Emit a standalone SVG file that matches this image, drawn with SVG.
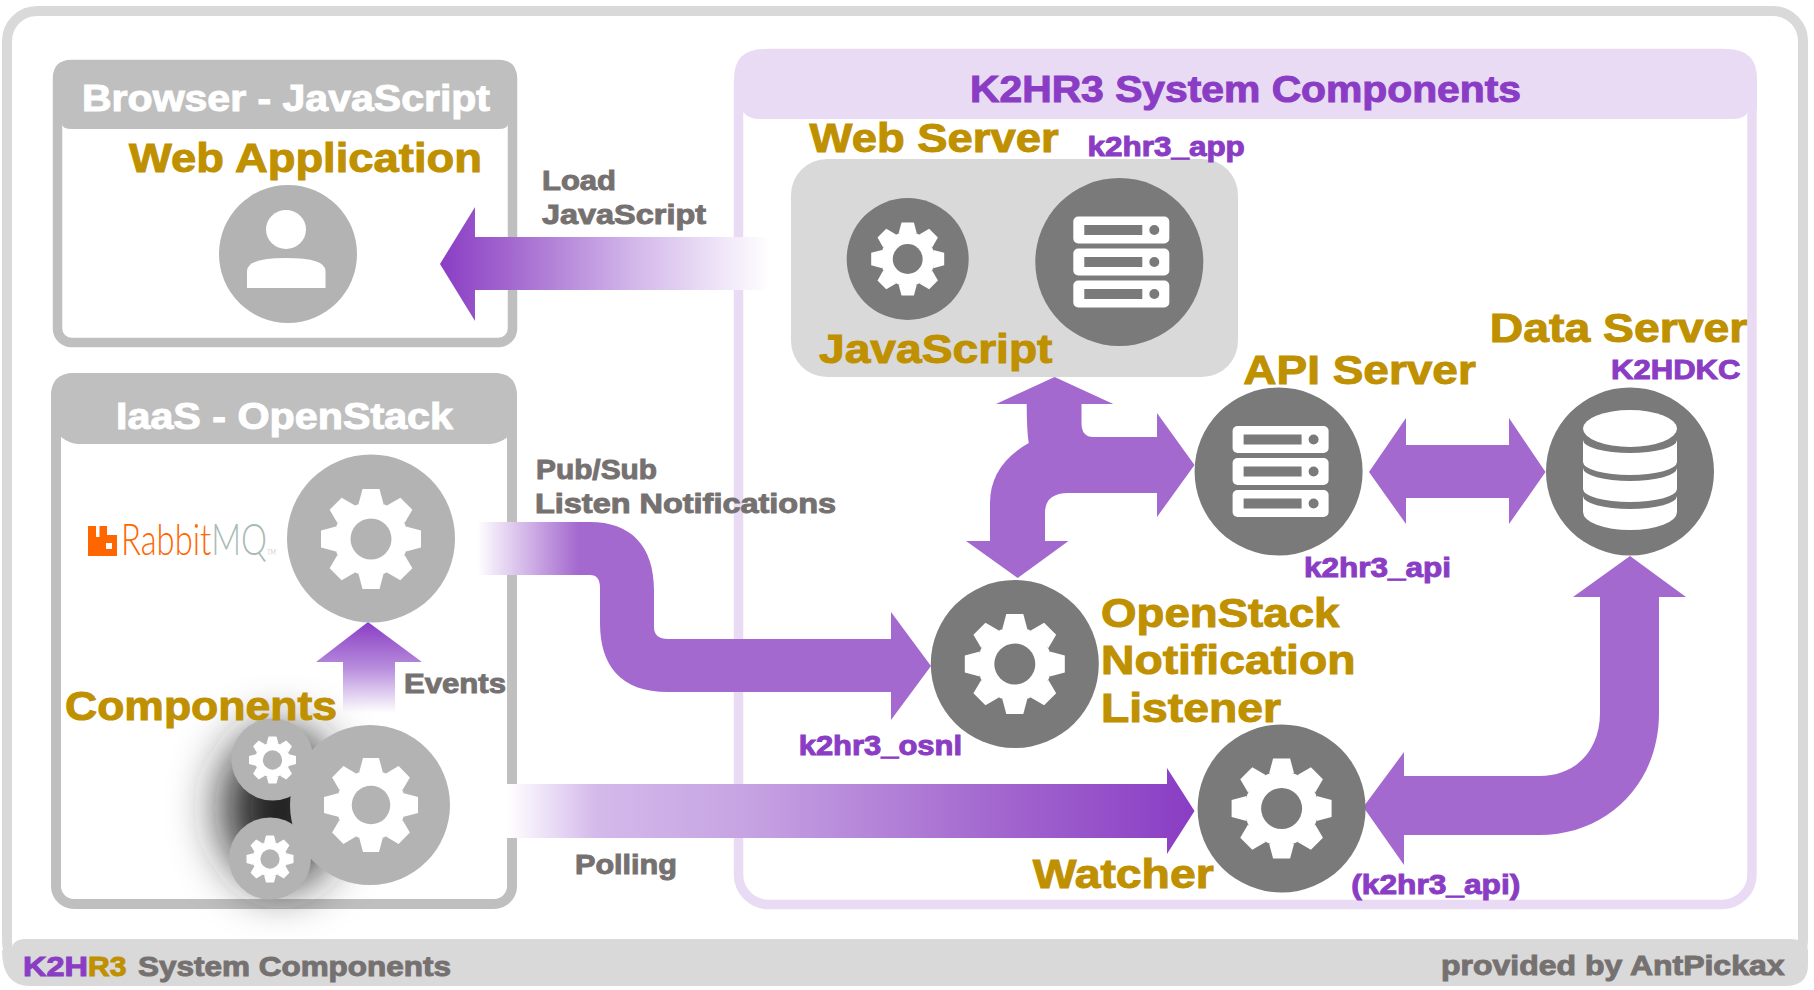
<svg xmlns="http://www.w3.org/2000/svg" width="1814" height="990" viewBox="0 0 1814 990">
<style>
text{font-family:"Liberation Sans",Arial,sans-serif;font-weight:700;stroke-width:1}
.h{font-size:36px}.t{font-size:41px}.s{font-size:28.500px}
.w{fill:#fff;stroke:#fff}.g{fill:#bf9000;stroke:#bf9000}.p{fill:#8a3dc4;stroke:#8a3dc4}.k{fill:#767171;stroke:#767171}
.dark{fill:#7a7a7a;color:#7a7a7a}.light{fill:#b3b3b3;color:#b3b3b3}
.flat{fill:#a469cf}
.lt{font-family:Lato,"Open Sans",sans-serif;font-weight:300;stroke:none}
</style>
<defs>
<g id="tooth"><path d="M-12.500-35-8.500-50H8.500L12.500-35Z" fill="#fff"/></g>
<g id="gear">
<circle r="37" fill="#fff"/>
<use href="#tooth"/><use href="#tooth" transform="rotate(45)"/><use href="#tooth" transform="rotate(90)"/><use href="#tooth" transform="rotate(135)"/><use href="#tooth" transform="rotate(180)"/><use href="#tooth" transform="rotate(225)"/><use href="#tooth" transform="rotate(270)"/><use href="#tooth" transform="rotate(315)"/>
<circle r="20.500" fill="currentColor"/>
</g>
<g id="unit"><rect x="-46" y="-13.500" width="96" height="27" rx="5" fill="#fff"/><rect x="-35" y="-5" width="58" height="10" fill="#7a7a7a"/><circle cx="35" r="5" fill="#7a7a7a"/></g>
<g id="rack"><use href="#unit" y="-32"/><use href="#unit"/><use href="#unit" y="32"/></g>
<linearGradient id="gLoad" gradientUnits="userSpaceOnUse" x1="440" y1="0" x2="770" y2="0"><stop offset="0" stop-color="#8a3dc4"/><stop offset=".22" stop-color="#a469cf"/><stop offset=".6" stop-color="#d4b9eb"/><stop offset="1" stop-color="#fff"/></linearGradient>
<linearGradient id="gEvents" gradientUnits="userSpaceOnUse" x1="0" y1="622" x2="0" y2="713"><stop offset="0" stop-color="#8a3dc4"/><stop offset=".5" stop-color="#b78cdc"/><stop offset="1" stop-color="#fff"/></linearGradient>
<linearGradient id="gPub" gradientUnits="userSpaceOnUse" x1="477" y1="0" x2="578" y2="0"><stop offset="0" stop-color="#fff"/><stop offset="1" stop-color="#a469cf"/></linearGradient>
<linearGradient id="gPoll" gradientUnits="userSpaceOnUse" x1="507" y1="0" x2="1194" y2="0"><stop offset="0" stop-color="#fff"/><stop offset=".13" stop-color="#d4b9eb"/><stop offset=".35" stop-color="#c6a3e2"/><stop offset=".7" stop-color="#a469cf"/><stop offset="1" stop-color="#8a3dc4"/></linearGradient>
<filter id="blur" x="-150%" y="-100%" width="400%" height="300%"><feGaussianBlur stdDeviation="25"/></filter>
</defs>

<rect width="1814" height="990" fill="#fff"/>

<g id="frame">
<rect x="7" y="11" width="1796" height="960" rx="30" fill="none" stroke="#d9d9d9" stroke-width="10"/>
<path d="M2 950Q2 986 30 986H1785Q1808 986 1808 965V950Q1806 939 1790 939H26Q12 939 12 950Z" fill="#d9d9d9"/>
<text class="s p" x="23" y="976" textLength="65" lengthAdjust="spacingAndGlyphs">K2H</text>
<text class="s g" x="88" y="976" textLength="38.500" lengthAdjust="spacingAndGlyphs">R3</text>
<text class="s k" x="138" y="976" textLength="313" lengthAdjust="spacingAndGlyphs">System Components</text>
<text class="s k" x="1441" y="975" textLength="343.500" lengthAdjust="spacingAndGlyphs">provided by AntPickax</text>
</g>

<g id="browser-box">
<rect x="57.500" y="64.500" width="455" height="278" rx="14" fill="#fff" stroke="#bfbfbf" stroke-width="9.500"/>
<path d="M53 78Q53 60 71 60H499Q517 60 517 78V120H508V124Q508 129 498 129H72Q62 129 62 124V120H53Z" fill="#bfbfbf"/>
<text class="h w" x="82" y="111" textLength="408" lengthAdjust="spacingAndGlyphs">Browser - JavaScript</text>
<text class="t g" x="129" y="172" textLength="353" lengthAdjust="spacingAndGlyphs">Web Application</text>
</g>
<g id="web-application">
<circle cx="288" cy="254" r="69" class="light"/>
<ellipse cx="286" cy="229.500" rx="20" ry="19.500" fill="#fff"/>
<path d="M247 288V271Q247 258 286 258Q325.500 258 325.500 271V288Z" fill="#fff"/>
</g>

<g id="iaas-box">
<rect x="56" y="378" width="456" height="526" rx="18" fill="#fff" stroke="#bfbfbf" stroke-width="10"/>
<path d="M51 396Q51 373 74 373H494Q517 373 517 396V434H508V437Q498 444 490 444H78Q70 444 61 437V434H51Z" fill="#bfbfbf"/>
<text class="h w" x="116" y="429" textLength="337" lengthAdjust="spacingAndGlyphs">IaaS - OpenStack</text>
</g>

<g id="k2hr3-box">
<rect x="738.500" y="53.500" width="1013.500" height="851" rx="30" fill="#fff" stroke="#e9dbf4" stroke-width="9.500"/>
<path d="M734 79Q734 49 764 49H1727Q1757 49 1757 79V110H1748V112Q1744 119 1734 119H758Q749 119 743 112V110H734Z" fill="#e9dbf4"/>
<text class="h p" x="970" y="102" textLength="551" lengthAdjust="spacingAndGlyphs">K2HR3 System Components</text>
</g>

<g id="web-server">
<rect x="791" y="159" width="447" height="218" rx="36" fill="#d9d9d9"/>
<circle cx="907.700" cy="259" r="61" class="dark"/>
<use href="#gear" transform="translate(907.700 259) scale(.73)" class="dark"/>
<circle cx="1119.300" cy="262" r="84" class="dark"/>
<use href="#rack" transform="translate(1119.300 262)"/>
<text class="t g" x="809.600" y="152" textLength="249" lengthAdjust="spacingAndGlyphs">Web Server</text>
<text class="s p" x="1087.500" y="156" textLength="157.300" lengthAdjust="spacingAndGlyphs">k2hr3_app</text>
<text class="t g" x="819" y="363" textLength="233.500" lengthAdjust="spacingAndGlyphs">JavaScript</text>
</g>

<g id="connectors">
<path id="load" d="M770 237H475V207L440 264L475 321V290H770Z" fill="url(#gLoad)"/>
<path id="events" d="M368 622L422 662H395V713H343V662H316Z" fill="url(#gEvents)"/>
<path id="pubsub" d="M477 522H590C630 522 654 545 654 590V627Q654 639 668 639H891V612L931 666L891 720V692H668C620 692 600 665 600 623V588Q600 575 590 575H477Z" fill="url(#gPub)"/>
<path id="polling" d="M507 784H1167V768L1194.500 811L1167 854V838H507Z" fill="url(#gPoll)"/>
<path id="watcher-db" class="flat" d="M1363.300 807L1404 752V776H1539.500C1576 776 1600 750 1600 713V597H1573L1630 556L1686 597H1659V713C1659 785 1606 835 1539.500 835H1404V865Z"/>
<path id="api-web-osnl" class="flat" d="M1054.600 377L1113.300 404H1081.500V423Q1081.500 437 1093.400 437H1157V413L1194.500 465L1157 517V493H1068.500Q1045 493 1045 513V541H1068.500L1017.700 578L966 541H990V503Q990 465 1028.700 443Q1026.700 430 1026.700 404H996Z"/>
<path id="api-db" class="flat" d="M1369 472L1406 418V445H1509V418L1545.500 472L1509 524V498H1406V524Z"/>
</g>

<g id="api-server">
<circle cx="1278.600" cy="471.500" r="84" class="dark"/>
<use href="#rack" transform="translate(1278.600 471.500)"/>
<text class="t g" x="1243.300" y="384" textLength="232.500" lengthAdjust="spacingAndGlyphs">API Server</text>
<text class="s p" x="1304" y="577" textLength="147" lengthAdjust="spacingAndGlyphs">k2hr3_api</text>
</g>

<g id="data-server">
<circle cx="1630" cy="471.500" r="84" class="dark"/>
<ellipse cx="1630" cy="428.500" rx="47" ry="18.500" fill="#fff"/>
<path d="M1583 440A47 13 0 0 0 1677 440V462A47 13 0 0 1 1583 462ZM1583 468A47 13 0 0 0 1677 468V489A47 13 0 0 1 1583 489ZM1583 496A47 13 0 0 0 1677 496V512A47 18 0 0 1 1583 512Z" fill="#fff"/>
<text class="t g" x="1489.800" y="342" textLength="257.400" lengthAdjust="spacingAndGlyphs">Data Server</text>
<text class="s p" x="1611" y="379" textLength="129.500" lengthAdjust="spacingAndGlyphs">K2HDKC</text>
</g>

<g id="osnl">
<circle cx="1014.800" cy="664" r="84" class="dark"/>
<use href="#gear" transform="translate(1014.800 664)" class="dark"/>
<text class="t g" x="1101" y="627" textLength="238.500" lengthAdjust="spacingAndGlyphs">OpenStack</text>
<text class="t g" x="1101" y="674" textLength="254.500" lengthAdjust="spacingAndGlyphs">Notification</text>
<text class="t g" x="1101" y="722" textLength="180" lengthAdjust="spacingAndGlyphs">Listener</text>
<text class="s p" x="798.700" y="755" textLength="163.300" lengthAdjust="spacingAndGlyphs">k2hr3_osnl</text>
</g>

<g id="watcher">
<circle cx="1281.600" cy="808.500" r="84" class="dark"/>
<use href="#gear" transform="translate(1281.600 808.500)" class="dark"/>
<text class="t g" x="1032.700" y="888" textLength="181" lengthAdjust="spacingAndGlyphs">Watcher</text>
<text class="s p" x="1351.300" y="894" textLength="169" lengthAdjust="spacingAndGlyphs">(k2hr3_api)</text>
</g>

<g id="rabbitmq">
<circle cx="371" cy="538.500" r="84" class="light"/>
<use href="#gear" transform="translate(371 539)" class="light"/>
<path fill-rule="evenodd" d="M88 526H96V537H99.500V526H107V535H117V556H88ZM106 543V549H112V543Z" fill="#f60"/>
<text class="lt" x="121" y="555" font-size="44" fill="#f60" textLength="155" lengthAdjust="spacingAndGlyphs">Rabbit<tspan fill="#a9bab5">MQ</tspan><tspan fill="#a9bab5" font-size="8">TM</tspan></text>
</g>

<g id="components">
<ellipse cx="280" cy="808" rx="58" ry="78" fill="#222" filter="url(#blur)"/>
<circle cx="370" cy="805" r="80" class="light"/>
<use href="#gear" transform="translate(371 805) scale(.94)" class="light"/>
<circle cx="272.500" cy="759.500" r="41" class="light"/>
<use href="#gear" transform="translate(272.500 760) scale(.47)" class="light"/>
<circle cx="270" cy="858.500" r="41" class="light"/>
<use href="#gear" transform="translate(270 859) scale(.47)" class="light"/>
<text class="t g" x="65" y="720" textLength="272" lengthAdjust="spacingAndGlyphs">Components</text>
</g>

<g id="labels">
<text class="s k" x="542" y="190" textLength="74" lengthAdjust="spacingAndGlyphs">Load</text>
<text class="s k" x="542" y="224" textLength="164" lengthAdjust="spacingAndGlyphs">JavaScript</text>
<text class="s k" x="536" y="479" textLength="121" lengthAdjust="spacingAndGlyphs">Pub/Sub</text>
<text class="s k" x="535" y="513" textLength="301" lengthAdjust="spacingAndGlyphs">Listen Notifications</text>
<text class="s k" x="404" y="693" textLength="102" lengthAdjust="spacingAndGlyphs">Events</text>
<text class="s k" x="575" y="874" textLength="102" lengthAdjust="spacingAndGlyphs">Polling</text>
</g>
</svg>
